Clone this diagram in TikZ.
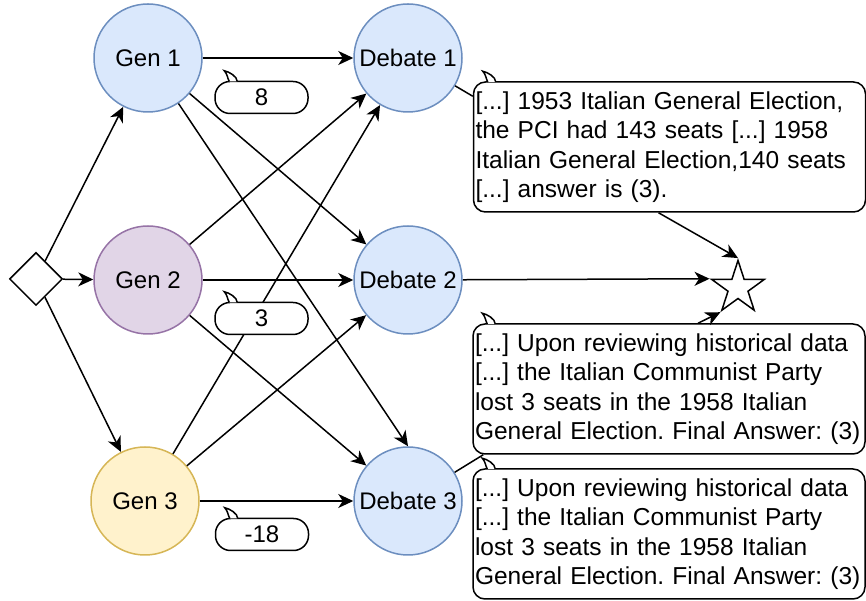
\documentclass[tikz,border=0pt]{standalone}
\usepackage{fontspec}
\setmainfont{Liberation Sans}
\usetikzlibrary{arrows.meta,shapes.geometric}
\frenchspacing

\definecolor{blueF}{HTML}{DAE8FC}
\definecolor{blueD}{HTML}{6C8EBF}
\definecolor{purpF}{HTML}{E1D5E7}
\definecolor{purpD}{HTML}{9673A6}
\definecolor{yellF}{HTML}{FFF2CC}
\definecolor{yellD}{HTML}{D6B656}

\tikzset{every picture/.style={line width=1.5pt}}
\tikzset{
	agent/.style={circle,draw,minimum size=108pt,inner sep=0pt,font=\fontsize{24}{28.8}\selectfont},
	tag/.style={draw,fill=white,rounded corners=15pt,minimum width=93pt,minimum height=32pt,inner sep=0pt,font=\fontsize{24}{28.8}\selectfont},
	callbox/.style={draw,fill=white,rounded corners=12pt,minimum width=392pt,minimum height=130pt,inner sep=2pt,text width=388pt,align=left,font=\fontsize{24.5}{29.4}\selectfont}
}

% tail on the upper left of a bubble
\newcommand{\bubbletail}[1]{%
	\draw[fill=white] ([shift={(15pt,-0.75pt)}]#1.north west)
	.. controls +(-2pt,4pt) and +(3pt,-3pt) .. ([shift={(10pt,10pt)}]#1.north west)
	.. controls +(5pt,-1pt) and +(0pt,5pt) .. ([shift={(23pt,-0.75pt)}]#1.north west);}

\begin{document}
\begin{tikzpicture}[>={Stealth[length=15pt,width=14pt,inset=4.5pt]},x=10pt,y=10pt]
	\useasboundingbox (0,0) rectangle (86.6,60.1);
	%Start
	\node[diamond,draw,fill=white,minimum width=53pt,minimum height=53pt,inner sep=0pt] (dia) at (3.6,32.2) {};
	%Gen
	\node[agent,draw=blueD,fill=blueF] (gen1) at (14.8,54.3) {Gen 1};
	\node[agent,draw=purpD,fill=purpF] (gen2) at (14.8,32.1) {Gen 2};
	\node[agent,draw=yellD,fill=yellF] (gen3) at (14.5,10.0) {Gen 3};
	%Debate
	\node[agent,draw=blueD,fill=blueF] (deb1) at (40.8,54.3) {Debate 1};
	\node[agent,draw=blueD,fill=blueF] (deb2) at (40.8,32.1) {Debate 2};
	\node[agent,draw=blueD,fill=blueF] (deb3) at (40.8,10.0) {Debate 3};
	%Star
	\node[star,star points=5,star point ratio=2.618,draw,fill=white,minimum size=55pt,inner sep=0pt] (star) at (73.8,31.3) {};
	%Mui ten start
	\draw[->] (dia) -- (gen1);
	\draw[->] (dia) -- (gen2);
	\draw[->] (dia) -- (gen3);
	%Mui ten gen 1
	\draw[->] (gen1) -- (deb1);
	\draw[->] (gen1) -- (deb2);
	\draw[->] (gen1) -- (deb3.north);
	%Mui ten gen 2
	\draw[->] (gen2) -- (deb1);
	\draw[->] (gen2) -- (deb2);
	\draw[->] (gen2) -- (deb3);
	%Mui ten gen 3
	\draw[->] (gen3) -- (deb1);
	\draw[->] (gen3) -- (deb2);
	\draw[->] (gen3) -- (deb3);
	%Tags
	\node[tag] (tag8) at (26.15,50.35) {8};
	\bubbletail{tag8}
	\node[tag] (tag3) at (26.15,28.25) {3};
	\bubbletail{tag3}
	\node[tag] (tag18) at (26.2,6.65) {-18};
	\bubbletail{tag18}
	%Callouts
	\node[callbox] (call1) at (66.95,45.4) {[...] 1953 Italian General Election,\\the PCI had 143 seats [...] 1958\\Italian General Election,140 seats\\[0pt][...] answer is (3).};
	\bubbletail{call1}
	\node[callbox] (call2) at (66.9,21.2) {[...] Upon reviewing historical data\\[0pt][...] the Italian Communist Party\\lost 3 seats in the 1958 Italian\\General Election. Final Answer: (3)};
	\bubbletail{call2}
	\node[callbox] (call3) at (66.9,6.7) {[...] Upon reviewing historical data\\[0pt][...] the Italian Communist Party\\lost 3 seats in the 1958 Italian\\General Election. Final Answer: (3)};
	\bubbletail{call3}
	%Den ngoi sao
	\coordinate (in1) at ([yshift=-15pt]call1.north west);
	\coordinate (in2) at ([xshift=11pt]call2.south west);
	\draw (deb1) -- (in1);
	\draw (deb3) -- (in2);
	\draw[->] ([xshift=-11pt]call1.south) -- (star.outer point 1);
	\draw[->] (deb2) -- (star.outer point 2);
	\draw[->] ([xshift=29pt]call2.north) -- (star.outer point 3);
\end{tikzpicture}
\end{document}
